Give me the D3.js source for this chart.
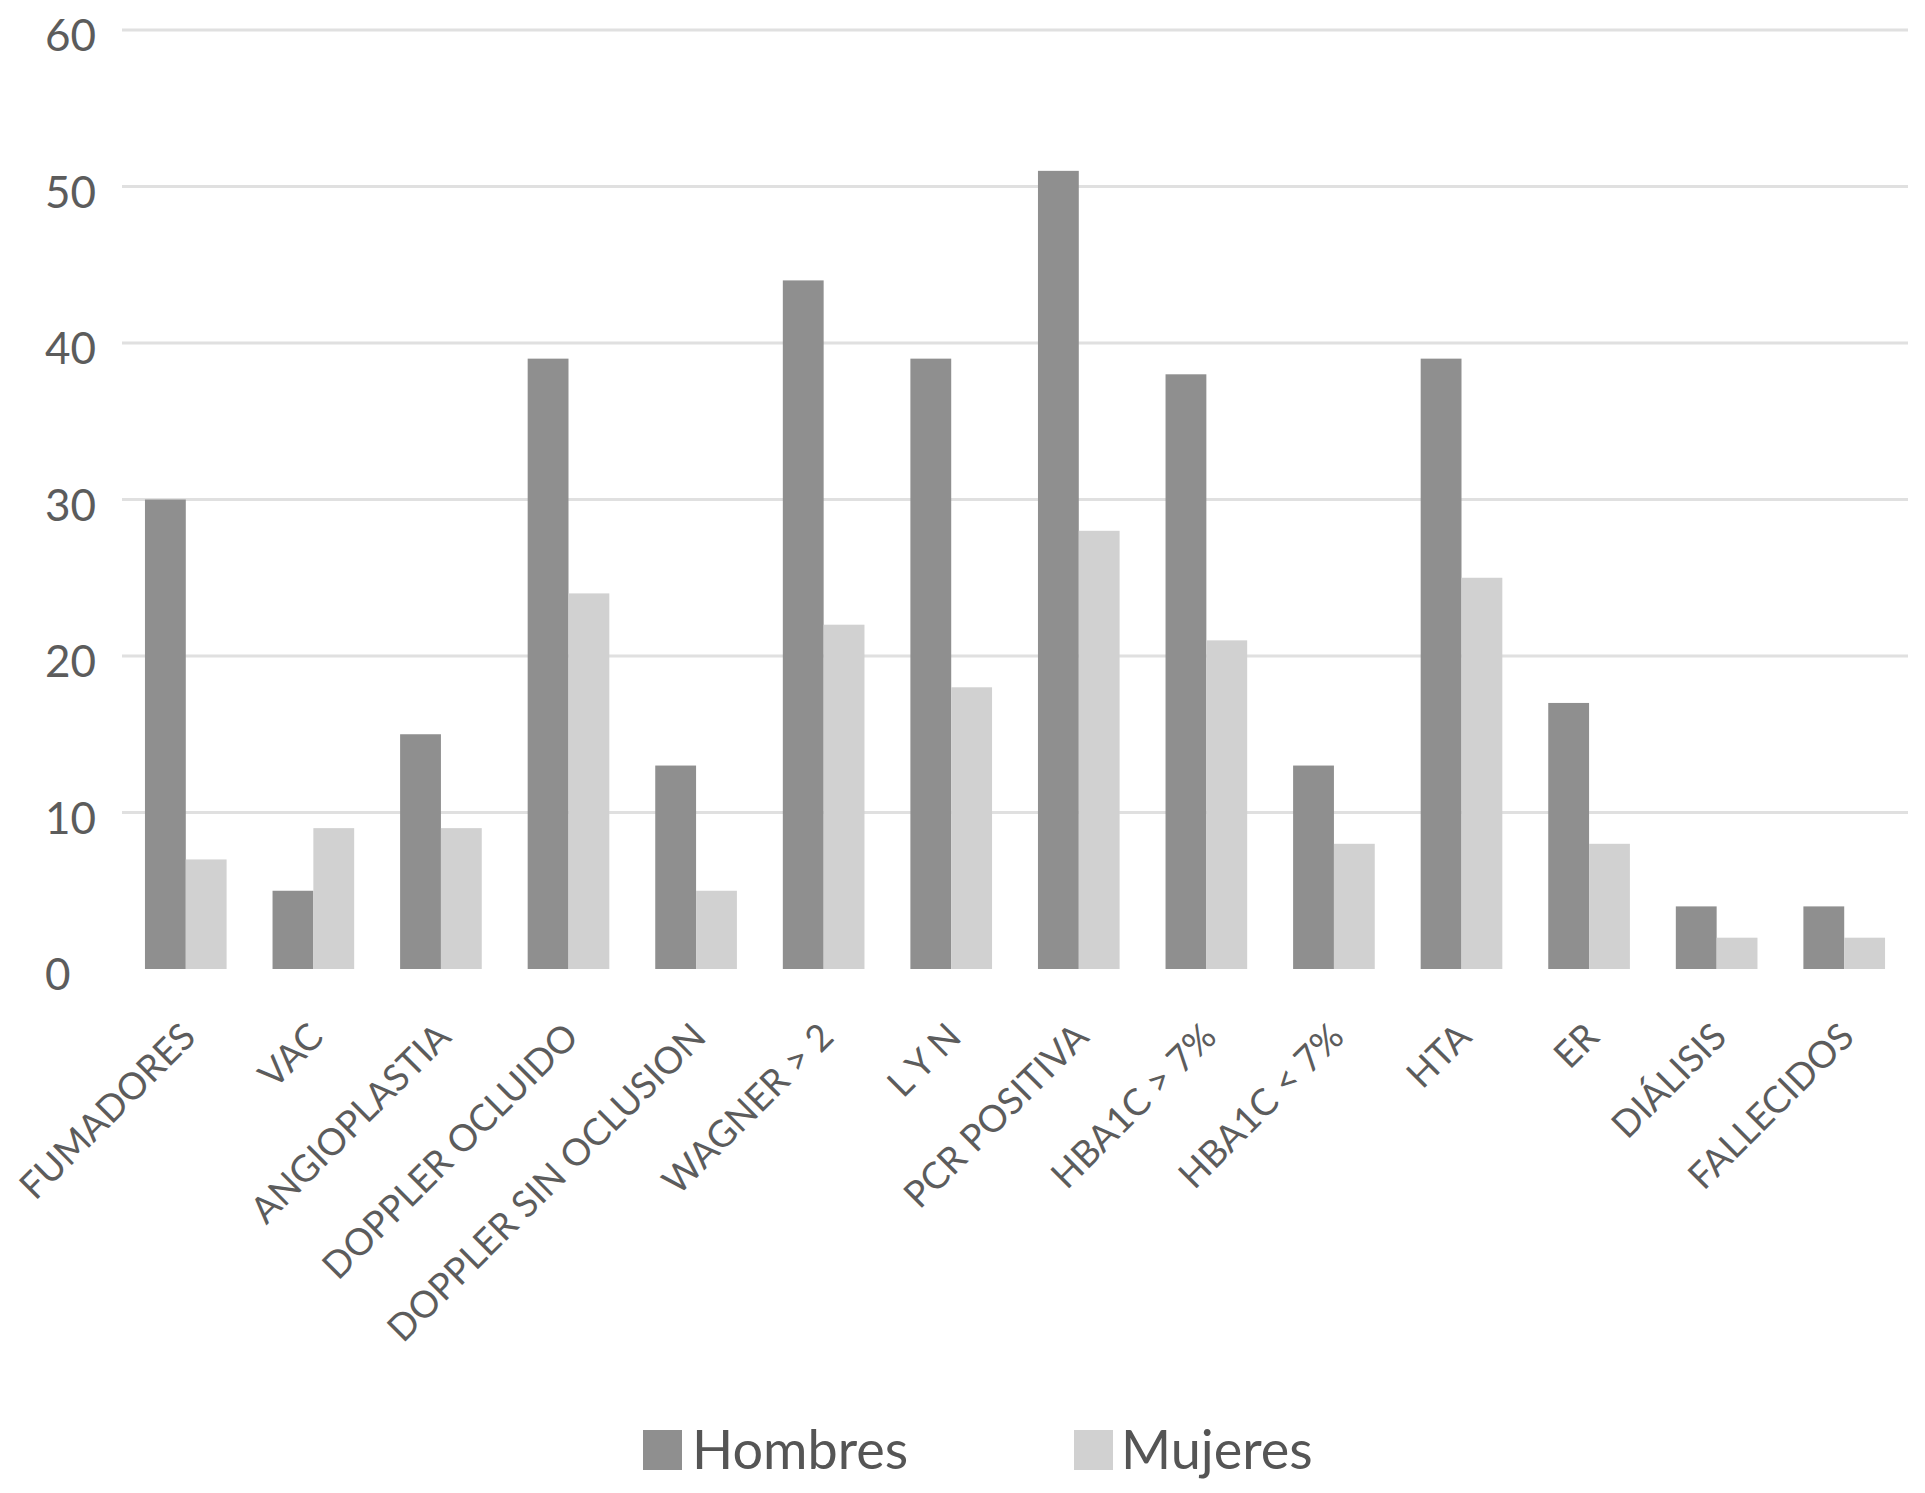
<!DOCTYPE html>
<html><head><meta charset="utf-8">
<script src="https://cdn.jsdelivr.net/npm/d3@7"></script>
<style>html,body{margin:0;padding:0;background:#fff;}svg{display:block;}</style>
</head><body>
<script>
const categories = ["FUMADORES","VAC","ANGIOPLASTIA","DOPPLER OCLUIDO","DOPPLER SIN OCLUSION","WAGNER > 2","L Y N","PCR POSITIVA","HBA1C > 7%","HBA1C < 7%","HTA","ER","DIÁLISIS","FALLECIDOS"];
const hombres = [30,5,15,39,13,44,39,51,38,13,39,17,4,4];
const mujeres = [7,9,9,24,5,22,18,28,21,8,25,8,2,2];
const seriesNames = ["Hombres","Mujeres"];
const yTicks = [0,10,20,30,40,50,60];

const W = 1925, H = 1493;
const font = "Lato, 'Open Sans', sans-serif";
const colors = {Hombres:"#8f8f8f", Mujeres:"#d1d1d1"};
const textColor = "#5c5c5c";

const svg = d3.select("body").append("svg").attr("width",W).attr("height",H);

const y = d3.scaleLinear().domain([0,60]).range([969,30]);
const x0 = d3.scaleBand().domain(categories).range([122,1908]).paddingInner(0.36).paddingOuter(0.18);
const x1 = d3.scaleBand().domain(seriesNames).range([0,x0.bandwidth()]);
const color = d3.scaleOrdinal().domain(seriesNames).range([colors.Hombres, colors.Mujeres]);

// gridlines
svg.append("g").selectAll("line").data(yTicks.filter(d=>d>0)).join("line")
  .attr("x1",122).attr("x2",1908)
  .attr("y1",d=>y(d)).attr("y2",d=>y(d))
  .attr("stroke","#e0e0e0").attr("stroke-width",3);

// y tick labels
svg.append("g").selectAll("text").data(yTicks).join("text")
  .attr("x",45).attr("y",d=>y(d)+4)
  .attr("dominant-baseline","central")
  .attr("font-family",font).attr("font-size",44).attr("fill",textColor)
  .text(d=>d);

// bars
const rows = categories.map((c,i)=>({cat:c, values:[{s:"Hombres",v:hombres[i]},{s:"Mujeres",v:mujeres[i]}]}));
const g = svg.append("g").selectAll("g").data(rows).join("g")
  .attr("transform",d=>`translate(${x0(d.cat)},0)`);
g.selectAll("rect").data(d=>d.values).join("rect")
  .attr("x",d=>x1(d.s)).attr("width",x1.bandwidth())
  .attr("y",d=>y(d.v)).attr("height",d=>y(0)-y(d.v))
  .attr("fill",d=>color(d.s));

// category labels
const labFs = 37;
svg.append("g").selectAll("text").data(categories).join("text")
  .attr("transform",d=>`translate(${x0(d)+x0.bandwidth()/2+12},1039) rotate(-45)`)
  .attr("text-anchor","end")
  .attr("font-family",font).attr("font-size",labFs).attr("fill",textColor)
  .text(d=>d);

// legend
const legend = [{s:"Hombres",rx:643,tx:692},{s:"Mujeres",rx:1074,tx:1121}];
const lg = svg.append("g");
lg.selectAll("rect").data(legend).join("rect")
  .attr("x",d=>d.rx).attr("y",1430).attr("width",39).attr("height",40)
  .attr("fill",d=>color(d.s));
lg.selectAll("text").data(legend).join("text")
  .attr("x",d=>d.tx).attr("y",1469)
  .attr("font-family",font).attr("font-size",54).attr("fill","#555")
  .text(d=>d.s);
</script>
</body></html>
